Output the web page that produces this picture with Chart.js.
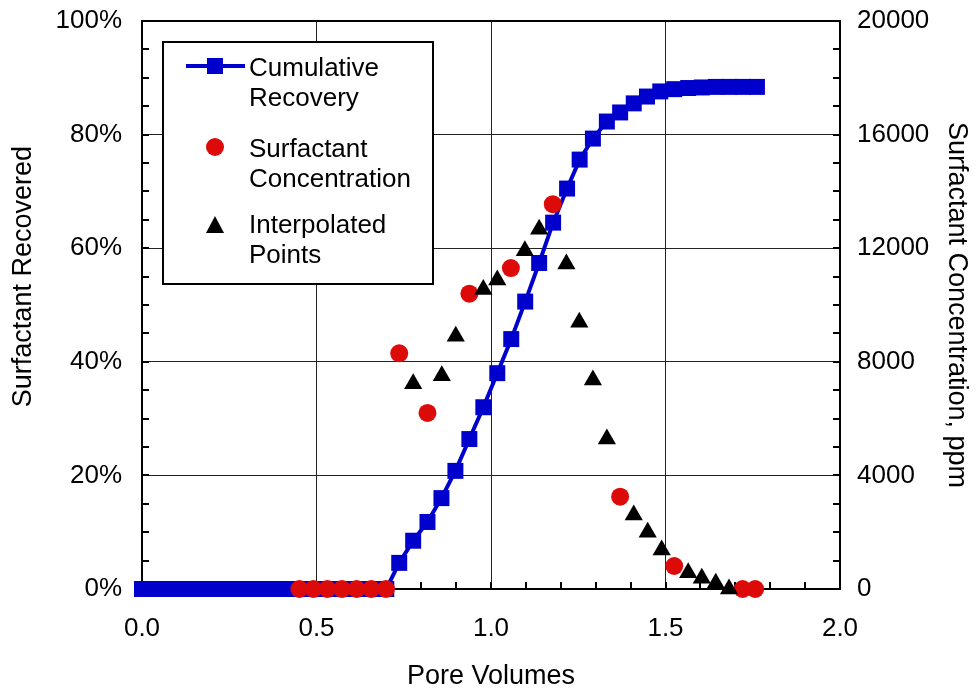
<!DOCTYPE html>
<html>
<head>
<meta charset="utf-8">
<script src="https://cdn.jsdelivr.net/npm/chart.js@4.4.1/dist/chart.umd.min.js"></script>
<style>
  html, body { margin: 0; padding: 0; background: #fff; }
  #wrap { width: 976px; height: 690px; }
</style>
</head>
<body>
<div id="wrap"><canvas id="chart" width="976" height="690"></canvas></div>
<script>
// Cumulative recovery (% of injected surfactant) vs pore volumes
const recPV = [0.00, 0.04, 0.08, 0.12, 0.16, 0.20, 0.24, 0.28, 0.32, 0.36, 0.40, 0.44, 0.48, 0.52, 0.56, 0.60, 0.64, 0.68, 0.70,
               0.737, 0.777, 0.818, 0.858, 0.898, 0.938, 0.978, 1.018, 1.058, 1.098, 1.138, 1.178, 1.218, 1.254, 1.292,
               1.332, 1.370, 1.409, 1.447, 1.485, 1.525, 1.565, 1.604, 1.644, 1.683, 1.722, 1.762];
const recPct = [0, 0, 0, 0, 0, 0, 0, 0, 0, 0, 0, 0, 0, 0, 0, 0, 0, 0, 0,
                4.6, 8.5, 11.8, 16.0, 20.8, 26.4, 32.0, 38.0, 44.0, 50.6, 57.4, 64.5, 70.5, 75.6, 79.3,
                82.3, 83.9, 85.5, 86.7, 87.6, 88.0, 88.2, 88.3, 88.4, 88.4, 88.4, 88.4];

// Measured surfactant concentration, ppm
const concPV = [0.451, 0.491, 0.531, 0.573, 0.615, 0.657, 0.699, 0.737, 0.818, 0.938, 1.057, 1.177, 1.370, 1.525, 1.721, 1.757];
const concPpm = [0, 0, 0, 0, 0, 0, 0, 8300, 6200, 10400, 11300, 13550, 3250, 810, 0, 0];

// Interpolated concentration points, ppm
const interpPV = [0.777, 0.859, 0.899, 0.978, 1.018, 1.097, 1.138, 1.216, 1.253, 1.292, 1.332, 1.409, 1.449, 1.489, 1.565, 1.604, 1.644, 1.682];
const interpPpm = [7230, 7510, 8900, 10550, 10880, 11910, 12670, 11440, 9390, 7360, 5280, 2610, 2000, 1370, 570, 380, 200, 0];

const legendLabels = [['Cumulative', 'Recovery'], ['Surfactant', 'Concentration'], ['Interpolated', 'Points']];
const leftTitle = 'Surfactant Recovered';

const BLUE = '#0000CC';
const RED = '#DD0A0A';
const FONT = "'Liberation Sans', Arial, sans-serif";

const pts = (xs, ys) => xs.map((x, i) => ({ x: x, y: ys[i] }));

// frame + inward ticks (drawn under the data)
const framePlugin = {
  id: 'frame',
  beforeDatasetsDraw(chart) {
    const ctx = chart.ctx;
    const a = chart.chartArea;
    const sx = chart.scales.x, sy = chart.scales.y;
    ctx.save();
    ctx.strokeStyle = '#000';
    ctx.lineWidth = 2;
    ctx.strokeRect(a.left, a.top, a.right - a.left, a.bottom - a.top);
    ctx.beginPath();
    const len = 7;
    for (let v = 0; v <= 100.01; v += 5) {
      const py = Math.round(sy.getPixelForValue(v));
      ctx.moveTo(a.left, py); ctx.lineTo(a.left + len, py);
      ctx.moveTo(a.right, py); ctx.lineTo(a.right - len, py);
    }
    for (let v = 0; v <= 2.001; v += 0.1) {
      const px = Math.round(sx.getPixelForValue(v));
      ctx.moveTo(px, a.bottom); ctx.lineTo(px, a.bottom - len);
    }
    ctx.stroke();
    ctx.restore();
  }
};

// legend box inside the plot, two-line labels, plus the left axis title
const legendPlugin = {
  id: 'boxLegend',
  afterDraw(chart) {
    const ctx = chart.ctx;
    const a = chart.chartArea;
    const bx = a.left + 21, by = a.top + 21, bw = 270, bh = 242;
    ctx.save();
    ctx.fillStyle = '#fff';
    ctx.fillRect(bx, by, bw, bh);
    ctx.strokeStyle = '#000';
    ctx.lineWidth = 2;
    ctx.strokeRect(bx, by, bw, bh);

    const mx = bx + 52;
    const rows = [by + 24, by + 105, by + 184];
    // cumulative: line + square
    ctx.strokeStyle = BLUE;
    ctx.lineWidth = 4;
    ctx.beginPath();
    ctx.moveTo(mx - 29, rows[0]); ctx.lineTo(mx + 30, rows[0]);
    ctx.stroke();
    ctx.fillStyle = BLUE;
    ctx.fillRect(mx - 8, rows[0] - 8, 16, 16);
    // red circle
    ctx.fillStyle = RED;
    ctx.beginPath();
    ctx.arc(mx, rows[1], 9, 0, Math.PI * 2);
    ctx.fill();
    // black triangle
    ctx.fillStyle = '#000';
    ctx.beginPath();
    ctx.moveTo(mx, rows[2] - 10);
    ctx.lineTo(mx + 9, rows[2] + 7);
    ctx.lineTo(mx - 9, rows[2] + 7);
    ctx.closePath();
    ctx.fill();

    ctx.fillStyle = '#000';
    ctx.font = '26px ' + FONT;
    ctx.textBaseline = 'alphabetic';
    ctx.textAlign = 'left';
    const baseOff = [10, 10, 7];
    legendLabels.forEach((lines, i) => {
      lines.forEach((t, j) => {
        ctx.fillText(t, bx + 86, rows[i] + baseOff[i] + j * 30);
      });
    });

    // left axis title, a bit above the middle like the original
    ctx.font = '27px ' + FONT;
    ctx.textAlign = 'center';
    ctx.textBaseline = 'middle';
    ctx.translate(24, a.top + (a.bottom - a.top) * 0.45);
    ctx.rotate(-Math.PI / 2);
    ctx.fillText(leftTitle, 0, 0);
    ctx.restore();
  }
};

new Chart(document.getElementById('chart'), {
  data: {
    datasets: [{
      type: 'line',
      label: 'Cumulative Recovery',
      data: pts(recPV, recPct),
      yAxisID: 'y',
      borderColor: BLUE,
      backgroundColor: BLUE,
      borderWidth: 4,
      pointStyle: 'rect',
      pointRadius: 11.3,
      pointBorderWidth: 0,
      pointBackgroundColor: BLUE,
      tension: 0,
      clip: false,
      order: 3
    }, {
      type: 'scatter',
      label: 'Surfactant Concentration',
      data: pts(concPV, concPpm),
      yAxisID: 'y2',
      pointStyle: 'circle',
      pointRadius: 9,
      pointBorderWidth: 0,
      backgroundColor: RED,
      borderColor: RED,
      clip: false,
      order: 2
    }, {
      type: 'scatter',
      label: 'Interpolated Points',
      data: pts(interpPV, interpPpm),
      yAxisID: 'y2',
      pointStyle: 'triangle',
      pointRadius: 10.5,
      pointBorderWidth: 0,
      backgroundColor: '#000',
      borderColor: '#000',
      clip: false,
      order: 1
    }]
  },
  options: {
    responsive: false,
    animation: false,
    layout: { padding: { top: 21, left: 0, right: 0, bottom: 0 } },
    plugins: {
      legend: { display: false },
      tooltip: { enabled: false }
    },
    scales: {
      x: {
        type: 'linear',
        min: 0, max: 2,
        ticks: {
          stepSize: 0.5,
          padding: 24,
          color: '#000',
          font: { family: FONT, size: 26 },
          callback: v => v.toFixed(1)
        },
        grid: { color: '#222', lineWidth: 1, drawTicks: false },
        border: { display: false },
        title: {
          display: true, text: 'Pore Volumes', color: '#000',
          font: { family: FONT, size: 27 }, padding: { top: 0, bottom: -3 }
        },
        afterFit: s => { s.height = 101; s.paddingLeft = 0; s.paddingRight = 0; }
      },
      y: {
        position: 'left',
        min: 0, max: 100,
        ticks: {
          stepSize: 20,
          padding: 20,
          color: '#000',
          font: { family: FONT, size: 26 },
          callback: v => v + '%'
        },
        grid: { color: '#222', lineWidth: 1, drawTicks: false },
        border: { display: false },
        afterFit: s => { s.width = 142; s.paddingTop = 0; s.paddingBottom = 0; }
      },
      y2: {
        position: 'right',
        min: 0, max: 20000,
        ticks: {
          stepSize: 4000,
          padding: 17,
          color: '#000',
          font: { family: FONT, size: 26 },
          callback: v => String(v)
        },
        grid: { display: false, drawTicks: false },
        border: { display: false },
        title: {
          display: true, text: 'Surfactant Concentration, ppm', color: '#000',
          font: { family: FONT, size: 27 }, padding: { top: 3, bottom: 0 }
        },
        afterFit: s => { s.width = 136; s.paddingTop = 0; s.paddingBottom = 0; }
      }
    }
  },
  plugins: [framePlugin, legendPlugin]
});
</script>
</body>
</html>
